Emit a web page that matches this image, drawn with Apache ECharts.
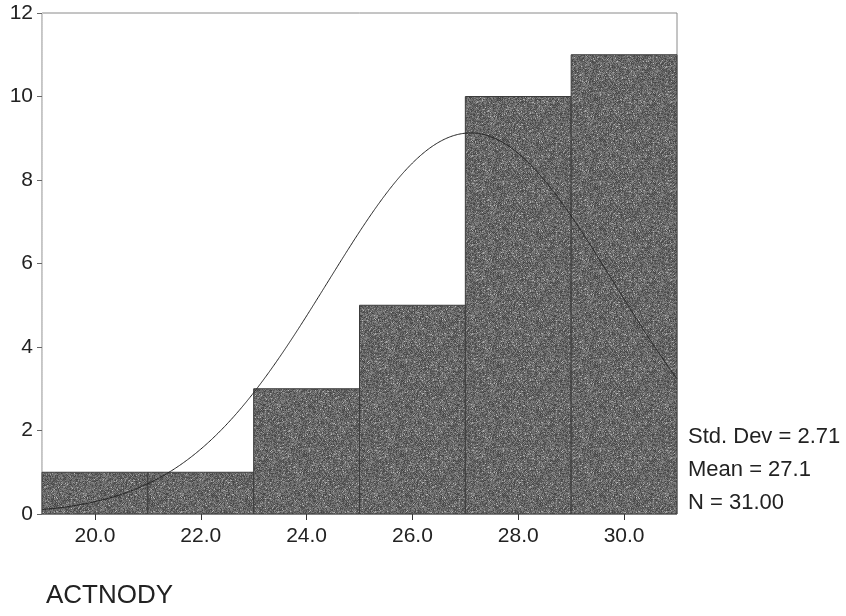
<!DOCTYPE html>
<html>
<head>
<meta charset="utf-8">
<script src="https://cdn.jsdelivr.net/npm/echarts@6/dist/echarts.min.js"></script>
<style>
  html, body { margin: 0; padding: 0; background: #fff; }
  #chart { width: 846px; height: 616px; }
</style>
</head>
<body>
<div id="chart"></div>
<script>
// Histogram of ACTNODY: bin edges and counts per bin
const binStarts = [19, 21, 23, 25, 27, 29];
const binWidth = 2;
const binCounts = [1, 1, 3, 5, 10, 11];

// Summary statistics shown beside the plot
const statMean = 27.1;
const statSd = 2.71;
const statN = 31;

// Axis ticks
const xTickValues = [20, 22, 24, 26, 28, 30];
const yTickValues = [0, 2, 4, 6, 8, 10, 12];

const variableName = 'ACTNODY';

// Normal curve fitted with the stated mean / sd, scaled to counts per bin
const curveData = [];
for (let i = 0; i <= 240; i++) {
  const x = 19 + i * 0.05;
  const z = (x - statMean) / statSd;
  const y = statN * binWidth / (statSd * Math.sqrt(2 * Math.PI)) * Math.exp(-0.5 * z * z);
  curveData.push([x, y]);
}

// Grainy dark-grey fill texture (deterministic speckle)
function makeTexture() {
  const c = document.createElement('canvas');
  c.width = 97; c.height = 89;
  const ctx = c.getContext('2d');
  const img = ctx.createImageData(c.width, c.height);
  let s = 1234567;
  function rnd() { s = (s * 1103515245 + 12345) & 0x7fffffff; return s / 0x7fffffff; }
  for (let p = 0; p < c.width * c.height; p++) {
    const px = p % c.width, py = Math.floor(p / c.width);
    let v = 96 + (rnd() - 0.5) * 64;
    if (rnd() > 0.93) v += 55;
    if ((px + py) % 2 === 0) v += 10;
    v = Math.max(30, Math.min(200, v));
    img.data[p * 4] = v; img.data[p * 4 + 1] = v; img.data[p * 4 + 2] = v; img.data[p * 4 + 3] = 255;
  }
  ctx.putImageData(img, 0, 0);
  return c;
}
const texture = makeTexture();

const barData = binStarts.map((s, i) => [s, s + binWidth, binCounts[i]]);

const chart = echarts.init(document.getElementById('chart'), null, { renderer: 'canvas' });
const font = 'Liberation Sans, Arial, sans-serif';

chart.setOption({
  backgroundColor: '#fff',
  animation: false,
  grid: {
    left: 42, right: 169, top: 13, bottom: 102,
    show: true, borderColor: '#8a8a8a', borderWidth: 1, backgroundColor: 'transparent'
  },
  xAxis: {
    type: 'value', min: 19, max: 31,
    axisLine: { show: false },
    splitLine: { show: false },
    axisTick: { show: true, length: 6, lineStyle: { color: '#333' }, customValues: xTickValues },
    axisLabel: {
      customValues: xTickValues, margin: 12,
      fontFamily: font, fontSize: 21, color: '#222',
      formatter: v => v.toFixed(1)
    }
  },
  yAxis: {
    type: 'value', min: 0, max: 12, interval: 2,
    axisLine: { show: true, lineStyle: { color: '#cfcfcf', type: 'dotted' } },
    splitLine: { show: false },
    axisTick: { show: true, length: 5, lineStyle: { color: '#666' } },
    axisLabel: { margin: 9, fontFamily: font, fontSize: 21, color: '#222' }
  },
  series: [
    {
      type: 'custom',
      data: barData,
      encode: { x: [0, 1], y: 2 },
      renderItem: function (params, api) {
        const p0 = api.coord([api.value(0), api.value(2)]);
        const p1 = api.coord([api.value(1), 0]);
        return {
          type: 'rect',
          shape: { x: p0[0], y: p0[1], width: p1[0] - p0[0], height: p1[1] - p0[1] },
          style: {
            fill: { image: texture, repeat: 'repeat' },
            stroke: '#3c3c3c', lineWidth: 1
          }
        };
      },
      z: 2
    },
    {
      type: 'line',
      data: curveData,
      showSymbol: false,
      smooth: true,
      lineStyle: { color: '#222', width: 1 },
      z: 3
    }
  ],
  graphic: [
    { type: 'text', left: 688, top: 426, style: { text: 'Std. Dev = ' + statSd.toFixed(2), font: '22px ' + font, fill: '#222' } },
    { type: 'text', left: 688, top: 459, style: { text: 'Mean = ' + statMean.toFixed(1), font: '22px ' + font, fill: '#222' } },
    { type: 'text', left: 688, top: 492, style: { text: 'N = ' + statN.toFixed(2), font: '22px ' + font, fill: '#222' } },
    { type: 'text', left: 46, top: 583, style: { text: variableName, font: '26px ' + font, fill: '#222' } }
  ]
});
</script>
</body>
</html>
